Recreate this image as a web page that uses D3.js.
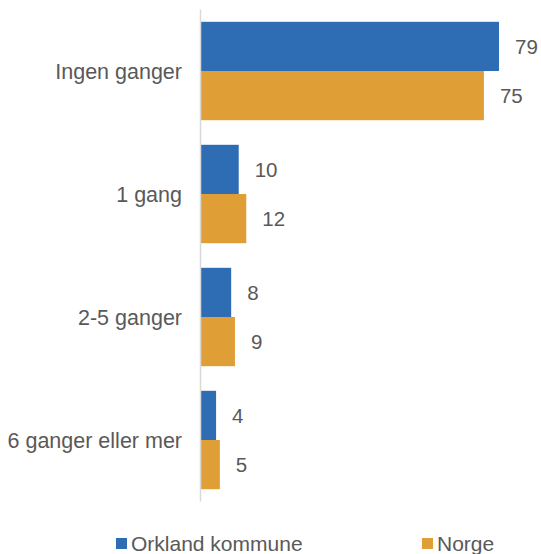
<!DOCTYPE html>
<html>
<head>
<meta charset="utf-8">
<script src="https://cdn.jsdelivr.net/npm/d3@7"></script>
<style>
  body { margin: 0; background: #fff; }
  text { font-family: "Liberation Sans", Arial, sans-serif; fill: #595959; }
</style>
</head>
<body>
<div id="chart"></div>
<script>
// grouped horizontal bars: Orkland kommune vs Norge
const categories = ["Ingen ganger", "1 gang", "2-5 ganger", "6 ganger eller mer"];
const seriesNames = ["Orkland kommune", "Norge"];
const orkland = [79, 10, 8, 4];
const norge = [75, 12, 9, 5];
const colours = ["#2E6DB4", "#E09E36"];

const width = 541, height = 554;
const margin = {top: 9.5, right: 42, bottom: 52.5, left: 201};

const data = categories.map((c, i) => ({cat: c, values: [orkland[i], norge[i]]}));

const svg = d3.select("#chart").append("svg")
    .attr("width", width)
    .attr("height", height);

const x = d3.scaleLinear()
    .domain([0, d3.max(orkland.concat(norge))])
    .range([margin.left, 499]);

const y = d3.scaleBand()
    .domain(categories)
    .range([margin.top, height - margin.bottom])
    .paddingInner(0.2)
    .paddingOuter(0.1);

const ySub = d3.scaleBand()
    .domain([0, 1])
    .range([0, y.bandwidth()]);

const groups = svg.selectAll("g.grp")
    .data(data)
    .enter()
    .append("g")
    .attr("class", "grp")
    .attr("transform", d => "translate(0," + y(d.cat) + ")");

groups.selectAll("rect")
    .data(d => d.values)
    .enter()
    .append("rect")
    .attr("x", x(0))
    .attr("y", (d, i) => ySub(i))
    .attr("width", d => x(d) - x(0))
    .attr("height", ySub.bandwidth())
    .attr("fill", (d, i) => colours[i]);

groups.selectAll("text.val")
    .data(d => d.values)
    .enter()
    .append("text")
    .attr("class", "val")
    .attr("x", d => x(d) + 16)
    .attr("y", (d, i) => ySub(i) + ySub.bandwidth() / 2)
    .attr("dy", "0.35em")
    .style("font-size", "20.5px")
    .text(d => d);

// vertical axis line
svg.append("line")
    .attr("x1", x(0) - 0.5).attr("x2", x(0) - 0.5)
    .attr("y1", margin.top).attr("y2", height - margin.bottom)
    .attr("stroke", "#d9d9d9")
    .attr("stroke-width", 1.5);

// category labels
svg.selectAll("text.cat")
    .data(categories)
    .enter()
    .append("text")
    .attr("class", "cat")
    .attr("x", 182)
    .attr("y", d => y(d) + y.bandwidth() / 2)
    .attr("dy", "0.35em")
    .attr("text-anchor", "end")
    .style("font-size", "21.5px")
    .text(d => d);

// legend
const legendX = [116, 422];
const legend = svg.selectAll("g.leg")
    .data(seriesNames)
    .enter()
    .append("g")
    .attr("class", "leg")
    .attr("transform", (d, i) => "translate(" + legendX[i] + ",538)");

legend.append("rect")
    .attr("width", 11).attr("height", 11)
    .attr("fill", (d, i) => colours[i]);

legend.append("text")
    .attr("x", 15)
    .attr("y", 5.5)
    .attr("dy", "0.35em")
    .style("font-size", "21px")
    .text(d => d);
</script>
</body>
</html>
